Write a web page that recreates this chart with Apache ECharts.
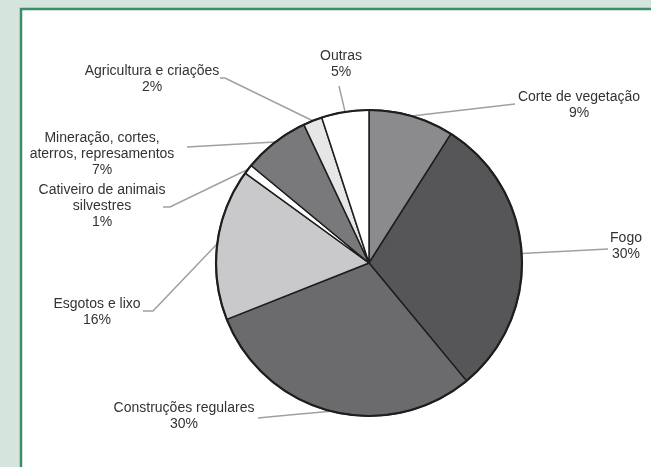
<!DOCTYPE html>
<html>
<head>
<meta charset="utf-8">
<script src="https://cdn.jsdelivr.net/npm/echarts@6/dist/echarts.min.js"></script>
<style>
html,body{margin:0;padding:0;background:#d5e4dc;}
#chart{width:651px;height:467px;}
</style>
</head>
<body>
<div id="chart"></div>
<script>
// Data
const categories = [
  'Corte de vegetação',
  'Fogo',
  'Construções regulares',
  'Esgotos e lixo',
  'Cativeiro de animais\nsilvestres',
  'Mineração, cortes,\naterros, represamentos',
  'Agricultura e criações',
  'Outras'
];
const values = [9, 30, 30, 16, 1, 7, 2, 5];
const sliceColors = ['#8b8b8d', '#565658', '#6b6b6d', '#c9c9cb', '#ffffff', '#79797b', '#e6e6e6', '#ffffff'];

// Layout of labels (text block centre, optional bend point, line end point)
const labelPos = [
  {x: 579, y: 105, bend: null,       end: [515, 104]},
  {x: 626, y: 246, bend: null,       end: [608, 249]},
  {x: 184, y: 416, bend: null,       end: [258, 418]},
  {x: 97,  y: 312, bend: [153, 311], end: [143, 311]},
  {x: 102, y: 206, bend: [170, 207], end: [163, 207]},
  {x: 102, y: 154, bend: null,       end: [187, 147]},
  {x: 152, y: 79,  bend: [225, 78],  end: [220, 78]},
  {x: 341, y: 64,  bend: null,       end: [339, 86]}
];

const chart = echarts.init(document.getElementById('chart'));
const center = [369, 263];
const radius = 153;

chart.setOption({
  backgroundColor: '#d5e4dc',
  animation: false,
  graphic: [{
    type: 'rect',
    z: -10,
    shape: {x: 21, y: 9, width: 700, height: 500},
    style: {fill: '#ffffff', stroke: '#3b8f68', lineWidth: 2.5}
  }],
  series: [{
    type: 'pie',
    center: center,
    radius: radius,
    startAngle: 90,
    clockwise: true,
    avoidLabelOverlap: false,
    data: categories.map((c, i) => ({
      name: c,
      value: values[i],
      itemStyle: {color: sliceColors[i]}
    })),
    itemStyle: {borderColor: '#1e1e1e', borderWidth: 1.5},
    label: {
      show: true,
      formatter: p => p.name + '\n' + p.value + '%',
      fontFamily: 'Liberation Sans, Arial, sans-serif',
      fontSize: 14,
      lineHeight: 16,
      color: '#333333',
      align: 'center'
    },
    labelLine: {
      show: true,
      length: 20,
      length2: 10,
      smooth: false,
      lineStyle: {color: '#a0a0a0', width: 1.5}
    },
    labelLayout: function (params) {
      const lp = labelPos[params.dataIndex];
      const res = {x: lp.x, y: lp.y, align: 'center', verticalAlign: 'middle'};
      if (params.labelLinePoints && params.labelLinePoints[0]) {
        const s = params.labelLinePoints[0];
        const mid = lp.bend || [(s[0] + lp.end[0]) / 2, (s[1] + lp.end[1]) / 2];
        res.labelLinePoints = [s, mid, lp.end];
      }
      return res;
    },
    emphasis: {disabled: true}
  }, {
    type: 'pie',
    center: center,
    radius: radius,
    silent: true,
    label: {show: false},
    labelLine: {show: false},
    data: [{value: 1, name: 'rim', itemStyle: {color: 'none', borderColor: '#1e1e1e', borderWidth: 2.2}}],
    emphasis: {disabled: true}
  }]
});
</script>
</body>
</html>
